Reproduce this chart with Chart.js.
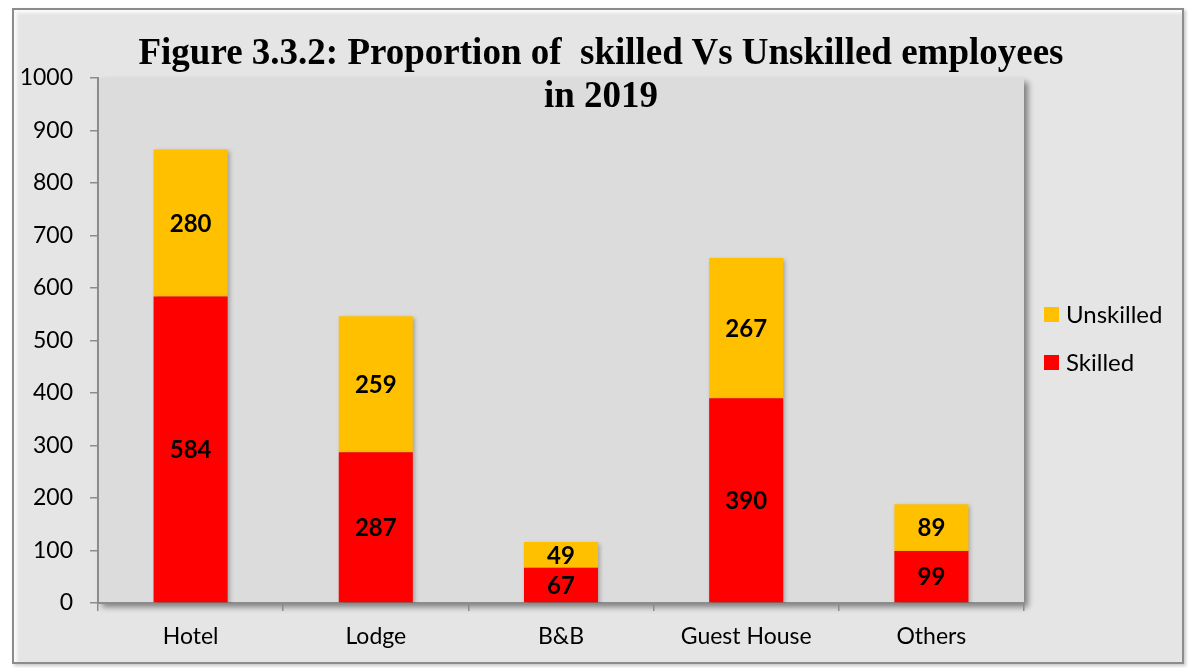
<!DOCTYPE html>
<html>
<head>
<meta charset="utf-8">
<script src="https://cdn.jsdelivr.net/npm/chart.js@4"></script>
<style>
  body { margin: 0; background: #fff; }
  #wrap { position: relative; width: 1189px; height: 668px; }
  #frame { position: absolute; left: 12px; top: 8px; width: 1168px; height: 652px;
           border: 2px solid #8c8c8c; background: #e5e5e5;
           box-shadow: inset 3px 3px 3px #fafafa, 2px 2px 3px #c8c8c8; }
  canvas { position: absolute; left: 0; top: 0; }
  #title { position: absolute; left: 0px; top: 30px; width: 1202px; text-align: center;
           font: bold 37px "Liberation Serif", serif; line-height: 43px; color: #000; }
</style>
</head>
<body>
<div id="wrap">
  <div id="frame"></div>
  <canvas id="myChart" width="1189" height="668"></canvas>
  <div id="title">Figure 3.3.2: Proportion of&nbsp; skilled Vs Unskilled employees<br>in 2019</div>
</div>
<script>
const categories = ['Hotel', 'Lodge', 'B&B', 'Guest House', 'Others'];
const skilled = [584, 287, 67, 390, 99];
const unskilled = [280, 259, 49, 267, 89];
const yTicks = [0, 100, 200, 300, 400, 500, 600, 700, 800, 900, 1000];

// plot area background with shadow
const plotBg = {
  id: 'plotBg',
  beforeDraw(chart) {
    const { ctx, chartArea: a } = chart;
    ctx.save();
    ctx.shadowColor = 'rgba(0,0,0,0.45)';
    ctx.shadowBlur = 6;
    ctx.shadowOffsetX = 4;
    ctx.shadowOffsetY = 4;
    ctx.fillStyle = '#dcdcdc';
    ctx.fillRect(a.left, a.top, a.right - a.left, a.bottom - a.top);
    ctx.restore();
  }
};

// soft shadow under the bars
const barShadow = {
  id: 'barShadow',
  beforeDatasetsDraw(chart) {
    const c = chart.ctx;
    c.save();
    c.shadowColor = 'rgba(0,0,0,0.25)';
    c.shadowBlur = 4;
    c.shadowOffsetX = 2;
    c.shadowOffsetY = 2;
  },
  afterDatasetsDraw(chart) {
    chart.ctx.restore();
  }
};

// bold value labels in the middle of each segment
const valueLabels = {
  id: 'valueLabels',
  afterDatasetsDraw(chart) {
    const { ctx } = chart;
    ctx.save();
    ctx.font = 'bold 24px Lato, "DejaVu Sans", sans-serif';
    ctx.fillStyle = '#000';
    ctx.textAlign = 'center';
    ctx.textBaseline = 'middle';
    chart.data.datasets.forEach((ds, i) => {
      chart.getDatasetMeta(i).data.forEach((bar, j) => {
        const mid = (bar.y + bar.base) / 2;
        ctx.fillText(String(ds.data[j]), bar.x, mid + 1);
      });
    });
    ctx.restore();
  }
};

// legend at right, Unskilled on top
const sideLegend = {
  id: 'sideLegend',
  afterDraw(chart) {
    const { ctx } = chart;
    const items = chart.data.datasets.slice().reverse();
    ctx.save();
    ctx.font = '24px Lato, "DejaVu Sans", sans-serif';
    ctx.textBaseline = 'middle';
    ctx.textAlign = 'left';
    items.forEach((ds, i) => {
      const y = 315 + i * 48;
      ctx.fillStyle = ds.backgroundColor;
      ctx.fillRect(1044, y - 8, 15, 15);
      ctx.fillStyle = '#000';
      ctx.fillText(ds.label, 1066, y);
    });
    ctx.restore();
  }
};

const tickFont = { size: 23, family: 'Lato, "DejaVu Sans", sans-serif' };

const ctx = document.getElementById('myChart').getContext('2d');
new Chart(ctx, {
  type: 'bar',
  data: {
    labels: categories,
    datasets: [
      { label: 'Skilled', data: skilled, backgroundColor: '#ff0000' },
      { label: 'Unskilled', data: unskilled, backgroundColor: '#ffc000' }
    ]
  },
  options: {
    responsive: false,
    animation: false,
    layout: { padding: { top: 78, right: 165, left: 0, bottom: 0 } },
    plugins: { legend: { display: false }, tooltip: { enabled: false } },
    datasets: { bar: { categoryPercentage: 1, barPercentage: 0.4 } },
    scales: {
      x: {
        stacked: true,
        afterFit: s => { s.height = 65; },
        grid: { offset: true, drawOnChartArea: false, tickLength: 8, color: '#8c8c8c', lineWidth: 1.5 },
        border: { color: '#8c8c8c', width: 2 },
        ticks: { color: '#000', padding: 12, font: tickFont }
      },
      y: {
        stacked: true,
        min: 0,
        max: 1000,
        afterFit: s => { s.width = 98; },
        afterBuildTicks: s => { s.ticks = yTicks.map(v => ({ value: v })); },
        grid: { drawOnChartArea: false, tickLength: 8, color: '#8c8c8c', lineWidth: 1.5 },
        border: { color: '#8c8c8c', width: 2 },
        ticks: { color: '#000', padding: 17, font: tickFont, callback: v => String(v) }
      }
    }
  },
  plugins: [plotBg, barShadow, valueLabels, sideLegend]
});
</script>
</body>
</html>
